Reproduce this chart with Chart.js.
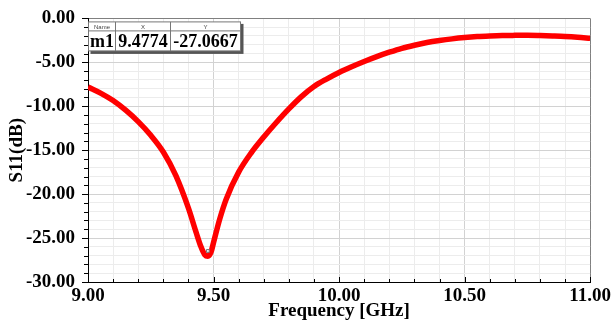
<!DOCTYPE html>
<html>
<head>
<meta charset="utf-8">
<script src="https://cdn.jsdelivr.net/npm/chart.js@4.4.0/dist/chart.umd.min.js"></script>
<style>
html,body{margin:0;padding:0;background:#fff;}
#wrap{position:relative;width:614px;height:321px;}
</style>
</head>
<body>
<div id="wrap"><canvas id="c" width="614" height="321"></canvas></div>
<script>
const freqs = [9.00,9.05,9.10,9.15,9.20,9.25,9.30,9.35,9.40,9.43,9.45,9.465,9.4774,9.49,9.50,9.525,9.55,9.60,9.65,9.70,9.75,9.80,9.85,9.90,9.95,10.00,10.05,10.10,10.15,10.20,10.25,10.30,10.35,10.40,10.45,10.50,10.55,10.60,10.65,10.70,10.75,10.80,10.85,10.90,10.95,11.00];
const s11 = [-7.8,-8.5,-9.35,-10.45,-11.75,-13.3,-15.2,-17.9,-21.6,-24.3,-26.0,-26.9,-27.07,-26.6,-25.5,-22.8,-20.6,-17.5,-15.3,-13.5,-11.85,-10.3,-8.9,-7.75,-6.9,-6.15,-5.5,-4.9,-4.35,-3.85,-3.4,-3.05,-2.75,-2.52,-2.33,-2.18,-2.07,-2.0,-1.95,-1.93,-1.92,-1.95,-2.0,-2.06,-2.15,-2.27];
const markerName = ["m1"];
const markerFreq = [9.4774];
const markerS11 = [-27.0667];
const tableHeader = ["Name","X","Y"];

const serif = "'Liberation Serif','Times New Roman',serif";
const isMajor = (v, step) => Math.abs(v/step - Math.round(v/step)) < 1e-6;

const tickPlugin = {
  id: 'extras',
  afterDraw(chart) {
    const ctx = chart.ctx;
    const xs = chart.scales.x, ys = chart.scales.y;
    const a = chart.chartArea;
    ctx.save();
    ctx.strokeStyle = '#000';
    ctx.lineWidth = 1;
    ys.ticks.forEach(t => {
      const y = Math.round(ys.getPixelForValue(t.value)) + 0.5;
      const len = isMajor(t.value, 5) ? 6 : 4;
      ctx.beginPath(); ctx.moveTo(a.left - len, y); ctx.lineTo(a.left, y); ctx.stroke();
    });
    xs.ticks.forEach(t => {
      const x = Math.round(xs.getPixelForValue(t.value)) + 0.5;
      const len = isMajor(t.value, 0.5) ? 5 : 3;
      ctx.beginPath(); ctx.moveTo(x, a.bottom); ctx.lineTo(x, a.bottom - len); ctx.stroke();
    });
    const bx = a.left + 0.5, by = a.top + 3.5, bw = 152, bh = 29;
    const c1 = 27, c2 = 82;
    ctx.fillStyle = '#555';
    ctx.fillRect(bx + 2, by + 2, bw + 1, bh + 1);
    ctx.fillStyle = '#fff';
    ctx.fillRect(bx, by, bw, bh);
    ctx.strokeStyle = '#777';
    ctx.strokeRect(bx, by, bw, bh);
    ctx.beginPath();
    ctx.moveTo(bx, by + 9); ctx.lineTo(bx + bw, by + 9);
    ctx.moveTo(bx + c1, by); ctx.lineTo(bx + c1, by + bh);
    ctx.moveTo(bx + c2, by); ctx.lineTo(bx + c2, by + bh);
    ctx.stroke();
    ctx.fillStyle = '#444';
    ctx.font = "6px 'Liberation Sans', Arial, sans-serif";
    ctx.textAlign = 'center'; ctx.textBaseline = 'middle';
    ctx.fillText(tableHeader[0], bx + c1/2, by + 5);
    ctx.fillText(tableHeader[1], bx + (c1 + c2)/2, by + 5);
    ctx.fillText(tableHeader[2], bx + (c2 + bw)/2, by + 5);
    ctx.fillStyle = '#000';
    ctx.font = "bold 18px " + serif;
    ctx.textBaseline = 'alphabetic';
    ctx.fillText(markerName[0], bx + c1/2, by + 25.5);
    ctx.fillText(markerFreq[0].toFixed(4), bx + (c1 + c2)/2, by + 25.5);
    ctx.fillText(markerS11[0].toFixed(4), bx + (c2 + bw)/2, by + 25.5);
    ctx.restore();
  }
};

new Chart(document.getElementById('c'), {
  type: 'scatter',
  data: {
    datasets: [
      {
        data: freqs.map((f, i) => ({x: f, y: s11[i]})),
        showLine: true,
        order: 2,
        borderColor: '#ff0000',
        backgroundColor: '#ff0000',
        borderWidth: 5.5,
        pointRadius: 0,
        cubicInterpolationMode: 'monotone'
      },
      {
        data: markerFreq.map((f, i) => ({x: f, y: markerS11[i] + 0.6})),
        showLine: false,
        order: 1,
        pointStyle: 'rect',
        pointRadius: 2,
        borderColor: '#777',
        backgroundColor: '#eee',
        borderWidth: 1
      }
    ]
  },
  options: {
    responsive: false,
    animation: false,
    devicePixelRatio: 1,
    layout: { padding: { left: 0, right: 21, top: 16, bottom: 0 } },
    plugins: { legend: { display: false }, tooltip: { enabled: false } },
    scales: {
      x: {
        type: 'linear', min: 9, max: 11,
        afterFit: s => { s.height = 39; },
        border: { color: '#000', width: 1 },
        grid: {
          drawTicks: false,
          color: c => {
            const v = c.tick.value;
            if (Math.abs(v - 11) < 1e-6) return '#808080';
            return isMajor(v, 0.5) ? '#d2d2d2' : '#ececec';
          }
        },
        ticks: {
          stepSize: 0.1, autoSkip: false, maxRotation: 0, padding: 3,
          color: '#000',
          font: { family: serif, size: 19, weight: 'bold' },
          callback: v => isMajor(v, 0.5) ? Number(v).toFixed(2) : ''
        },
        title: {
          display: true, text: 'Frequency [GHz]', color: '#000',
          font: { family: serif, size: 19, weight: 'bold', lineHeight: 1 },
          padding: { top: 0, bottom: 0 }
        }
      },
      y: {
        type: 'linear', min: -30, max: 0,
        afterFit: s => { s.width = 88; },
        border: { color: '#000', width: 1 },
        grid: {
          tickLength: 6, tickColor: 'rgba(0,0,0,0)',
          color: c => {
            const v = c.tick.value;
            if (Math.abs(v) < 1e-6) return '#808080';
            return isMajor(v, 5) ? '#d2d2d2' : '#ececec';
          }
        },
        ticks: {
          stepSize: 1, autoSkip: false, padding: 7,
          color: '#000',
          font: { family: serif, size: 19, weight: 'bold' },
          callback: v => isMajor(v, 5) ? (v === 0 ? '0.00' : Number(v).toFixed(2)) : ''
        },
        title: {
          display: true, text: 'S11(dB)', color: '#000',
          font: { family: serif, size: 19, weight: 'bold', lineHeight: 1 },
          padding: { top: 8, bottom: 0 }
        }
      }
    }
  },
  plugins: [tickPlugin]
});
</script>
</body>
</html>
